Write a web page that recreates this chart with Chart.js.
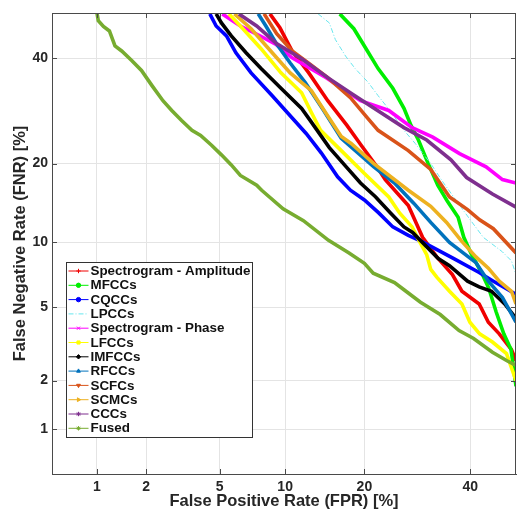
<!DOCTYPE html>
<html>
<head>
<meta charset="utf-8">
<script src="https://cdn.jsdelivr.net/npm/chart.js@4/dist/chart.umd.min.js"></script>
<style>
  body { margin: 0; background: #fff; }
</style>
</head>
<body>
<canvas id="det" width="519" height="511"></canvas>
<script>
// [FPR %, FNR %] pairs
const amplitude = [[8.6,49.8],[9.5,46.7],[10.7,41.6],[12.5,36.9],[14.8,31.2],[17.4,26.5],[19.5,23.0],[21.8,19.8],[23.4,17.6],[27.5,14.1],[30.2,10.5],[33.0,8.65],[36.2,7.2],[38.2,6.0],[41.9,5.2],[43.9,4.2],[46.3,3.65],[49,3.0],[50,2.6]];
const mfcc = [[16.4,49.8],[18.4,46.5],[20,42.7],[22.2,37.8],[24.7,33.7],[26.7,29.7],[28,26.5],[29.4,23.9],[31.3,20.0],[33.2,16.8],[35.2,14.6],[37.4,12.7],[38.6,10.5],[40.1,9.0],[42.4,7.35],[44,6.2],[45.6,4.75],[47.3,3.65],[48.9,3.0],[50,1.85]];
const cqcc = [[4.46,49.8],[4.8,47.1],[5.4,44.9],[6.0,41.2],[7.07,36.9],[8.8,32.2],[10.5,28.3],[12.2,25.05],[14,21.7],[16.1,18.0],[17.9,16.1],[20,14.8],[22.3,13.2],[24.7,11.6],[27.5,10.7],[30,10.1],[36.5,8.5],[41.9,7.35],[45,6.7],[50,5.8]];
const lpcc = [[13.6,49.8],[15,47.8],[15.8,44.1],[17.2,40.5],[18.6,37.8],[20.6,34.9],[22.2,32.2],[23.9,29.7],[26.7,25.6],[28.8,23.3],[31.8,20.0],[34.4,17.1],[37.4,14.4],[40.1,12.3],[42.8,10.5],[47,9.1],[49,8.3],[50,7.2]];
const phase = [[5.15,49.8],[6.3,47.1],[7.3,45.6],[9.1,43.1],[10.7,40.1],[14.6,35.9],[19.4,31.2],[24.0,29.3],[28.2,26.1],[32.2,24.4],[37.7,21.6],[43.4,19.5],[47,17.6],[50,17.1]];
const lfcc = [[5.55,49.8],[6.3,47.1],[7.85,42.1],[9.6,36.9],[11.7,32.8],[12.8,28.9],[13.9,25.6],[16.6,22.1],[20.0,18.5],[24.0,15.2],[25.9,13.2],[28.2,11.6],[29.2,10.5],[31.0,8.85],[31.8,7.6],[33.0,7.0],[35.6,6.0],[38.2,5.2],[39.9,4.2],[42.0,3.65],[44.8,3.3],[47.9,2.85],[50,2.0]];
const imfcc = [[4.8,49.8],[5.1,47.8],[5.7,44.9],[6.7,41.2],[7.85,37.8],[9.6,33.7],[11.7,29.7],[12.8,27.1],[15.0,22.6],[17.3,19.5],[19.4,17.1],[21.8,15.2],[24.3,13.2],[26.7,11.6],[28.3,11.0],[33.3,8.5],[35.6,7.9],[39.4,6.7],[41.9,6.3],[44.6,6.0],[47.5,5.2],[50,4.4]];
const rfcc = [[7.62,49.8],[8.25,47.1],[9.15,43.3],[10.5,39.0],[12.1,34.9],[14.2,29.5],[16.6,24.2],[21.5,19.5],[25,17.1],[28.5,14.4],[31.8,12.1],[35.6,10.0],[41.2,8.15],[43.9,6.7],[47.0,5.6],[50,4.2]];
const scfc = [[8.1,49.8],[9.2,45.4],[10.7,41.6],[12.6,38.8],[14.8,35.9],[17.9,31.8],[20.4,28],[22.2,25.6],[27.5,22.1],[31.8,19.1],[35.6,15.2],[39.4,13.6],[42,12.4],[45,11.4],[50,9.0]];
const scmc = [[5.9,49.8],[7.07,46.5],[8.8,41.2],[10.5,36.9],[12.8,33.2],[14.7,28.5],[16.6,24.5],[18,23.3],[21.5,20.0],[27.5,16.1],[31.8,14.0],[35,12.1],[38,10.2],[41.2,8.65],[43.9,7.7],[46.3,6.7],[49,6.0],[50,5.2]];
const ccc = [[6.2,49.8],[7.5,47.1],[9.15,43.3],[11.7,39.9],[14.8,35.9],[18.1,32.6],[22.1,29.3],[26.7,26.1],[31.0,23.9],[35.9,20.6],[39.2,17.9],[44.8,15.6],[50,13.9]];
const fused = [[1.0,50],[1.02,48.3],[1.1,47],[1.2,46],[1.3,42.7],[1.43,41.6],[1.65,39.5],[1.88,37.4],[2.16,34.3],[2.5,31.2],[2.8,29.3],[3.17,27.4],[3.6,25.6],[4.0,24.7],[4.55,23.0],[5.1,21.4],[5.7,19.8],[6.3,18.2],[7.5,16.8],[7.9,16.1],[9.8,13.7],[11.9,12.3],[14.9,10.2],[17.7,9.0],[20,8.1],[21.4,7.3],[25,6.6],[26.7,6.1],[29.8,5.3],[33.7,4.6],[37.6,3.8],[40.7,3.45],[44.8,2.9],[48,2.6],[50,2.45]];

const seriesNames = ['Spectrogram - Amplitude', 'MFCCs', 'CQCCs', 'LPCCs', 'Spectrogram - Phase', 'LFCCs', 'IMFCCs', 'RFCCs', 'SCFCs', 'SCMCs', 'CCCs', 'Fused'];
const seriesData = [amplitude, mfcc, cqcc, lpcc, phase, lfcc, imfcc, rfcc, scfc, scmc, ccc, fused];
const seriesColors = ['#f00000', '#00ee00', '#0000ff', '#66e6ee', '#ff00ff', '#ffff00', '#000000', '#0072bd', '#d95319', '#edb120', '#7e2f8e', '#77ac30'];
const markerStyles = ['cross', 'circle', 'circle', 'line', 'crossRot', 'rect', 'rectRot', 'triangle', 'triangle', 'triangle', 'star', 'star'];
const markerRotation = [0, 0, 0, 0, 0, 0, 0, 0, 180, 90, 0, 0];

const xTicks = [1, 2, 5, 10, 20, 40];
const yTicks = [1, 2, 5, 10, 20, 40];

// inverse normal CDF (Acklam)
function probit(p) {
  const a = [-3.969683028665376e+01, 2.209460984245205e+02, -2.759285104469687e+02, 1.383577518672690e+02, -3.066479806614716e+01, 2.506628277459239e+00];
  const b = [-5.447609879822406e+01, 1.615858368580409e+02, -1.556989798598866e+02, 6.680131188771972e+01, -1.328068155288572e+01];
  const c = [-7.784894002430293e-03, -3.223964580411365e-01, -2.400758277161838e+00, -2.549671010243282e+00, 4.374664141464968e+00, 2.938163982698783e+00];
  const d = [7.784695709041462e-03, 3.224671290700398e-01, 2.445134137142996e+00, 3.754408661907416e+00];
  const pl = 0.02425;
  let q, r;
  if (p < pl) {
    q = Math.sqrt(-2 * Math.log(p));
    return (((((c[0]*q+c[1])*q+c[2])*q+c[3])*q+c[4])*q+c[5]) / ((((d[0]*q+d[1])*q+d[2])*q+d[3])*q+1);
  }
  if (p > 1 - pl) {
    q = Math.sqrt(-2 * Math.log(1 - p));
    return -(((((c[0]*q+c[1])*q+c[2])*q+c[3])*q+c[4])*q+c[5]) / ((((d[0]*q+d[1])*q+d[2])*q+d[3])*q+1);
  }
  q = p - 0.5; r = q * q;
  return (((((a[0]*r+a[1])*r+a[2])*r+a[3])*r+a[4])*r+a[5])*q / (((((b[0]*r+b[1])*r+b[2])*r+b[3])*r+b[4])*r+1);
}

function normcdf(z) {
  const t = 1 / (1 + 0.3275911 * Math.abs(z) / Math.SQRT2);
  const y = 1 - (((((1.061405429*t - 1.453152027)*t) + 1.421413741)*t - 0.284496736)*t + 0.254829592)*t*Math.exp(-z*z/2);
  return z >= 0 ? 0.5 * (1 + y) : 0.5 * (1 - y);
}

// normal-deviate axis for DET curves, values in percent
class ProbitScale extends Chart.Scale {
  determineDataLimits() {
    this.min = this.options.min;
    this.max = this.options.max;
  }
  buildTicks() {
    const vals = this.axis === 'x' ? xTicks : yTicks;
    return vals.map(v => ({ value: v }));
  }
  getLabelForValue(v) { return String(v); }
  configure() {
    super.configure();
    this._zStart = probit(this.min / 100);
    this._zEnd = probit(this.max / 100);
  }
  getPixelForValue(v) {
    return this.getPixelForDecimal((probit(v / 100) - this._zStart) / (this._zEnd - this._zStart));
  }
  getPixelForTick(i) {
    return this.getPixelForValue(this.ticks[i].value);
  }
  getValueForPixel(px) {
    const z = this._zStart + this.getDecimalForPixel(px) * (this._zEnd - this._zStart);
    return normcdf(z) * 100;
  }
}
ProbitScale.id = 'probit';
ProbitScale.defaults = {};
Chart.register(ProbitScale);

const axisColor = '#4a4a4a';
const tickFont = { family: 'Liberation Sans, Arial, sans-serif', size: 14, weight: 'bold' };
const titleFont = { family: 'Liberation Sans, Arial, sans-serif', size: 16.5, weight: 'bold', lineHeight: 1.2 };

// top/right frame, inner tick marks and the boxed legend
const framePlugin = {
  id: 'frame',
  afterDraw(chart) {
    const ctx = chart.ctx;
    const a = chart.chartArea;
    const xs = chart.scales.x, ys = chart.scales.y;
    ctx.save();
    ctx.strokeStyle = axisColor;
    ctx.lineWidth = 1;
    ctx.beginPath();
    ctx.moveTo(a.left, a.top + 0.5); ctx.lineTo(a.right, a.top + 0.5);
    ctx.moveTo(a.right - 0.5, a.top); ctx.lineTo(a.right - 0.5, a.bottom);
    xs.ticks.forEach(t => {
      const px = Math.round(xs.getPixelForValue(t.value)) + 0.5;
      ctx.moveTo(px, a.top); ctx.lineTo(px, a.top + 5);
      ctx.moveTo(px, a.bottom); ctx.lineTo(px, a.bottom - 5);
    });
    ys.ticks.forEach(t => {
      const py = Math.round(ys.getPixelForValue(t.value)) + 0.5;
      ctx.moveTo(a.left, py); ctx.lineTo(a.left + 5, py);
      ctx.moveTo(a.right, py); ctx.lineTo(a.right - 5, py);
    });
    ctx.stroke();

    // legend
    const lx = 66.5, ly = 262.5, lw = 186, lh = 175;
    ctx.fillStyle = '#fff';
    ctx.fillRect(lx, ly, lw, lh);
    ctx.strokeStyle = '#333';
    ctx.strokeRect(lx, ly, lw, lh);
    ctx.font = 'bold 13.4px "Liberation Sans", Arial, sans-serif';
    ctx.textBaseline = 'middle';
    chart.data.datasets.forEach((ds, i) => {
      const y = ly + 8.5 + i * 14.3;
      ctx.strokeStyle = ds.borderColor;
      ctx.lineWidth = 1;
      ctx.setLineDash(ds.borderDash || []);
      ctx.beginPath();
      ctx.moveTo(lx + 2, y); ctx.lineTo(lx + 22, y);
      ctx.stroke();
      ctx.setLineDash([]);
      if (Chart.helpers && Chart.helpers.drawPoint && markerStyles[i] !== 'line') {
        ctx.fillStyle = ds.borderColor;
        Chart.helpers.drawPoint(ctx, { pointStyle: markerStyles[i], rotation: markerRotation[i], radius: 2.2, borderWidth: 1 }, lx + 12, y);
      }
      ctx.fillStyle = '#111';
      ctx.fillText(ds.label, lx + 24, y + 0.5);
    });
    ctx.restore();
  }
};

const datasets = seriesNames.map((name, i) => ({
  label: name,
  data: seriesData[i].map(p => ({ x: p[0], y: p[1] })),
  borderColor: seriesColors[i],
  backgroundColor: seriesColors[i],
  borderWidth: i === 3 ? 1 : 3.6,
  borderDash: i === 3 ? [5, 2, 1, 2] : [],
  pointRadius: 0,
  tension: 0,
  fill: false,
  order: seriesNames.length - i
}));

new Chart(document.getElementById('det').getContext('2d'), {
  type: 'line',
  data: { datasets: datasets },
  options: {
    responsive: false,
    animation: false,
    layout: { padding: { top: 13, right: 3, left: 0, bottom: 0 } },
    plugins: { legend: { display: false }, tooltip: { enabled: false } },
    scales: {
      x: {
        type: 'probit',
        position: 'bottom',
        min: 0.5,
        max: 50,
        grid: { color: '#e4e4e4', drawTicks: false },
        border: { color: axisColor },
        ticks: { font: tickFont, color: '#262626', padding: 5, maxRotation: 0, autoSkip: false },
        title: { display: true, text: 'False Positive Rate (FPR) [%]', font: titleFont, color: '#262626', padding: { top: 0, bottom: 0 } },
        afterFit(scale) { scale.height = 37; }
      },
      y: {
        type: 'probit',
        position: 'left',
        min: 0.5,
        max: 50,
        grid: { color: '#e4e4e4', drawTicks: false },
        border: { color: axisColor },
        ticks: { font: tickFont, color: '#262626', padding: 4, autoSkip: false },
        title: { display: true, text: 'False Negative Rate (FNR) [%]', font: titleFont, color: '#262626', padding: { top: 11, bottom: 0 } },
        afterFit(scale) { scale.width = 52; }
      }
    }
  },
  plugins: [framePlugin]
});
</script>
</body>
</html>
